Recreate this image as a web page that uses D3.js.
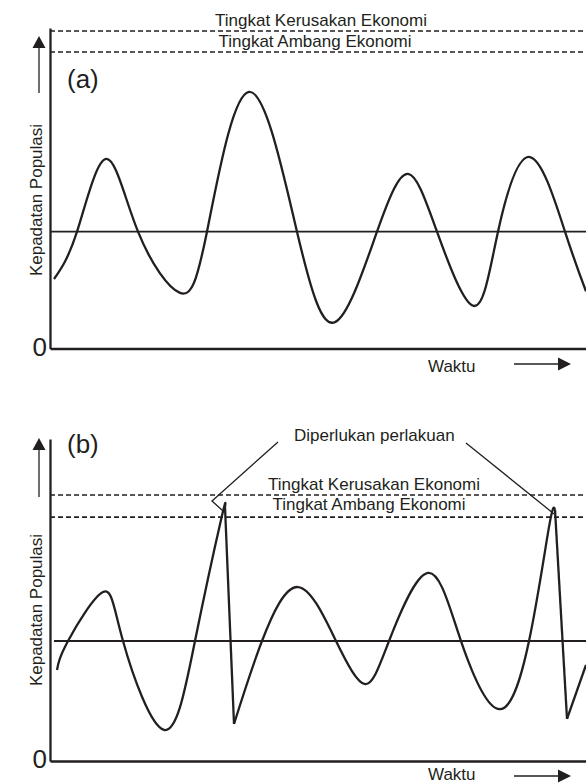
<!DOCTYPE html>
<html>
<head>
<meta charset="utf-8">
<title>Kepadatan Populasi</title>
<script src="https://d3js.org/d3.v7.min.js"></script>
<style>
html, body { margin: 0; background: #fff; }
svg { display: block; }
text { font-family: "Liberation Sans", Arial, sans-serif; fill: #231f20; }
</style>
</head>
<body>
<svg id="chart" width="586" height="784"></svg>
<script>
// waktu 0-100, kepadatan 0-100 (per panel)
var timeA = [0.75, 5.04, 10.45, 16.42, 24.25, 29.29, 37.13, 46.08, 53.17, 61.01, 66.79, 72.2, 79.1, 83.58, 89.55, 96.08, 100];
var densA = [21.9, 36.8, 59.7, 36.8, 17.5, 36.8, 80.8, 36.8, 8.3, 36.8, 55.0, 36.8, 13.4, 36.8, 60.3, 36.8, 18.0];
var levelA = [100, 93.4, 36.8]; // kerusakan, ambang, rata-rata

var timeB = [1.31, 3.36, 9.89, 13.62, 21.27, 27.05, 31.9, 32.65, 34.33, 39.55, 46.27, 53.36, 58.77, 63.25, 70.52, 76.68, 83.77, 89.37, 93.1, 94.22, 96.46, 100];
var densB = [34.2, 45.1, 63.5, 45.1, 11.7, 45.1, 90.6, 95.5, 13.9, 45.1, 65.4, 45.1, 28.9, 45.1, 70.7, 45.1, 19.5, 45.1, 88.0, 94.4, 15.8, 36.1];
var dropB = [7, 19]; // perlakuan: turun tajam setelah titik ini
var levelB = [100, 91.7, 45.1];

var labels = ["Tingkat Kerusakan Ekonomi", "Tingkat Ambang Ekonomi"];

var ink = "#231f20";
var svg = d3.select("#chart");

var x = d3.scaleLinear().domain([0, 100]).range([50, 586]);

var panels = [
  { name: "(a)", time: timeA, dens: densA, drops: [], level: levelA,
    bottom: 348.5, top: 31, axisTop: 28, meanX: 50,
    labX: [321, 315], labY: [26, 47], nameY: 88, ylabY: 200, arrY: [93, 36], waktuY: 372, xArrY: 364 },
  { name: "(b)", time: timeB, dens: densB, drops: dropB, level: levelB,
    bottom: 761, top: 495, axisTop: 439, meanX: 54,
    labX: [374, 369], labY: [490, 510], nameY: 453, ylabY: 610, arrY: [497, 438], waktuY: 780, xArrY: 776 }
];

panels.forEach(function(p) {
  var y = d3.scaleLinear().domain([0, 100]).range([p.bottom, p.top]);
  var g = svg.append("g");

  // garis putus-putus
  [0, 1].forEach(function(i) {
    g.append("line")
      .attr("x1", x(0)).attr("x2", x(100))
      .attr("y1", y(p.level[i])).attr("y2", y(p.level[i]))
      .attr("stroke", ink).attr("stroke-width", 1.6)
      .attr("stroke-dasharray", "5,3");
    g.append("text")
      .attr("x", p.labX[i]).attr("y", p.labY[i])
      .attr("text-anchor", "middle")
      .attr("font-size", 17)
      .text(labels[i]);
  });

  // garis rata-rata
  g.append("line")
    .attr("x1", p.meanX).attr("x2", x(100))
    .attr("y1", y(p.level[2])).attr("y2", y(p.level[2]))
    .attr("stroke", ink).attr("stroke-width", 1.9);

  // kurva populasi
  var pts = p.time.map(function(t, i) { return [t, p.dens[i]]; });
  var cuts = [0];
  p.drops.forEach(function(d) { cuts.push(d, d + 1); });
  cuts.push(pts.length - 1);
  var smooth = d3.line().x(function(d) { return x(d[0]); }).y(function(d) { return y(d[1]); })
    .curve(d3.curveNatural);
  var straight = d3.line().x(function(d) { return x(d[0]); }).y(function(d) { return y(d[1]); });
  for (var k = 0; k < cuts.length - 1; k++) {
    var seg = pts.slice(cuts[k], cuts[k + 1] + 1);
    g.append("path")
      .attr("d", (k % 2 === 0 ? smooth : straight)(seg))
      .attr("fill", "none").attr("stroke", ink)
      .attr("stroke-width", 2.3).attr("stroke-linejoin", "round");
  }

  // sumbu
  var yAxisScale = y.copy().domain([0, y.invert(p.axisTop)]).range([p.bottom, p.axisTop]);
  var ya = g.append("g").attr("transform", "translate(" + x(0) + ",0)")
    .call(d3.axisLeft(yAxisScale).tickValues([0]).tickSize(0).tickSizeOuter(0).tickPadding(3));
  var xa = g.append("g").attr("transform", "translate(0," + y(0) + ")")
    .call(d3.axisBottom(x).tickValues([]).tickSizeOuter(0));
  [ya, xa].forEach(function(a) {
    a.select(".domain").attr("stroke", ink).attr("stroke-width", 2.3);
  });
  ya.selectAll(".tick text")
    .attr("font-size", 26).attr("font-family", "Liberation Sans, Arial, sans-serif")
    .attr("fill", ink).attr("dy", "0.25em");

  g.append("text").attr("x", 67).attr("y", p.nameY)
    .attr("font-size", 26).text(p.name);

  // label sumbu y + panah
  g.append("text")
    .attr("transform", "translate(42," + p.ylabY + ") rotate(-90)")
    .attr("text-anchor", "middle").attr("font-size", 17)
    .text("Kepadatan Populasi");
  g.append("line").attr("x1", 39).attr("x2", 39)
    .attr("y1", p.arrY[0]).attr("y2", p.arrY[1] + 10)
    .attr("stroke", ink).attr("stroke-width", 1.3);
  g.append("path")
    .attr("d", "M39," + p.arrY[1] + " L45.5," + (p.arrY[1] + 12) + " L32.5," + (p.arrY[1] + 12) + " Z")
    .attr("fill", ink);

  // label waktu + panah
  g.append("text").attr("x", 428).attr("y", p.waktuY)
    .attr("font-size", 17).text("Waktu");
  g.append("line").attr("x1", 514).attr("x2", 560)
    .attr("y1", p.xArrY).attr("y2", p.xArrY)
    .attr("stroke", ink).attr("stroke-width", 1.3);
  g.append("path")
    .attr("d", "M571," + p.xArrY + " L558," + (p.xArrY - 6.5) + " L558," + (p.xArrY + 6.5) + " Z")
    .attr("fill", ink);

  // penunjuk perlakuan
  if (p.drops.length) {
    g.append("text").attr("x", 294).attr("y", 441)
      .attr("font-size", 17).text("Diperlukan perlakuan");
    var l = pts[p.drops[0]], r = pts[p.drops[1]];
    g.append("path")
      .attr("d", "M278,442 L212,501 L" + (x(l[0]) - 2) + "," + (y(l[1]) + 4))
      .attr("fill", "none").attr("stroke", ink).attr("stroke-width", 1.3);
    g.append("path")
      .attr("d", "M466,443 L" + (x(r[0]) - 1) + "," + (y(r[1]) + 4))
      .attr("fill", "none").attr("stroke", ink).attr("stroke-width", 1.3);
  }
});
</script>
</body>
</html>
